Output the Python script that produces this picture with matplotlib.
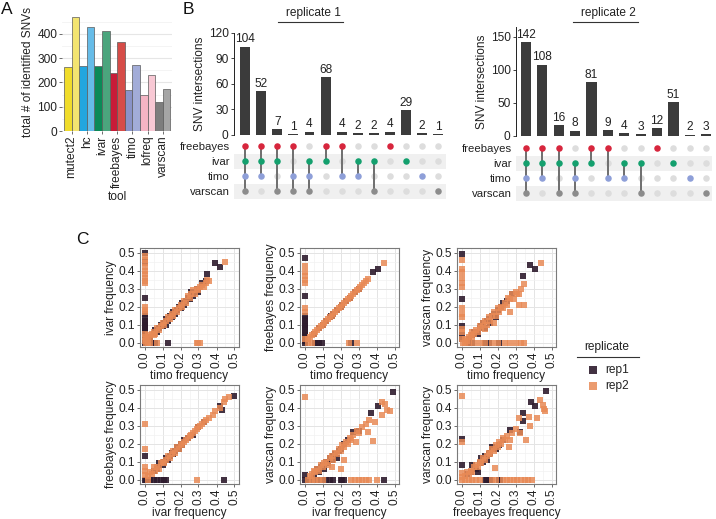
import matplotlib
matplotlib.use("Agg")
import matplotlib.pyplot as plt
from matplotlib.lines import Line2D
from matplotlib.patches import Rectangle

plt.rcParams['font.family'] = ['Liberation Sans', 'DejaVu Sans']
FS = 8.6
TXT = '#222222'

# ---------------- data: panel A ----------------
TOOLS = ['mutect2', 'hc', 'ivar', 'freebayes', 'timo', 'lofreq', 'varscan']
SNV_REP1 = [265, 267, 268, 240, 168, 147, 120]
SNV_REP2 = [470, 430, 413, 367, 272, 230, 172]
COL_REP1 = ['#f0dc2a', '#22a6df', '#0b8a57', '#c81b38', '#8a93c8', '#f4b4c4', '#7d7d7d']
COL_REP2 = ['#f3e470', '#66bce8', '#4ba57d', '#d64c48', '#a2acd8', '#f8c8d4', '#a5a5a5']

# ---------------- data: panel B ----------------
SETS = ['freebayes', 'ivar', 'timo', 'varscan']
REP1_COUNTS = [104, 52, 7, 1, 4, 68, 4, 2, 2, 4, 29, 2, 1]
REP1_MEMBERS = [
    ['freebayes', 'ivar', 'timo', 'varscan'],
    ['freebayes', 'ivar', 'timo'],
    ['freebayes', 'ivar', 'varscan'],
    ['freebayes', 'timo', 'varscan'],
    ['ivar', 'timo', 'varscan'],
    ['freebayes', 'ivar'],
    ['freebayes', 'timo'],
    ['ivar', 'timo'],
    ['ivar', 'varscan'],
    ['freebayes'],
    ['ivar'],
    ['timo'],
    ['varscan'],
]
REP2_COUNTS = [142, 108, 16, 8, 81, 9, 4, 3, 12, 51, 2, 3]
REP2_MEMBERS = [
    ['freebayes', 'ivar', 'timo', 'varscan'],
    ['freebayes', 'ivar', 'timo'],
    ['freebayes', 'ivar', 'varscan'],
    ['ivar', 'timo', 'varscan'],
    ['freebayes', 'ivar'],
    ['freebayes', 'timo'],
    ['ivar', 'timo'],
    ['ivar', 'varscan'],
    ['freebayes'],
    ['ivar'],
    ['timo'],
    ['varscan'],
]
SET_COLORS = {'freebayes': '#d7263d', 'ivar': '#14a06e', 'timo': '#8e9fd8', 'varscan': '#8c8c8c'}

# ---------------- data: panel C (x, y) frequency pairs ----------------
TIMO_IVAR_REP1 = [(0, .50), (0, .45), (0, .25), (0, .16), (0, .14), (0, .12), (0, .11), (0, .10), (0, .09),
                  (0, .08), (0, .07), (0, .06), (0, .05), (0, .04), (0, .03), (0, .02), (0, .01), (0, 0),
                  (.05, 0), (.06, 0), (.13, 0),
                  (.02, .03), (.03, .02), (.05, .05), (.06, .07), (.07, .06), (.08, .08), (.09, .10), (.10, .09),
                  (.11, .11), (.12, .13), (.12, .10), (.13, .12), (.14, .15), (.15, .14), (.16, .17), (.17, .16),
                  (.18, .18), (.19, .20), (.20, .19), (.21, .22), (.22, .21), (.23, .23), (.24, .25), (.25, .24),
                  (.26, .28), (.27, .26), (.29, .30), (.30, .28), (.32, .33), (.34, .34), (.35, .38), (.39, .44),
                  (.42, .42)]
TIMO_IVAR_REP2 = [(0, .48), (0, .46), (0, .44), (0, .42), (0, .40), (0, .38), (0, .36), (0, .34), (0, .33),
                  (0, .20), (0, .18), (0, .17), (0, .05), (0, .03), (0, .01),
                  (.01, 0), (.02, 0), (.03, 0), (.07, 0), (.29, 0), (.30, 0), (.31, 0),
                  (.01, .02), (.02, .01), (.02, .04), (.03, .03), (.04, .05), (.05, .04), (.05, .06), (.06, .05),
                  (.07, .08), (.08, .07), (.09, .09), (.10, .11), (.11, .10), (.12, .12), (.13, .14), (.14, .13),
                  (.15, .16), (.16, .15), (.17, .18), (.18, .17), (.19, .19), (.20, .21), (.21, .20), (.22, .23),
                  (.23, .22), (.24, .26), (.25, .25), (.26, .27), (.27, .29), (.28, .27), (.29, .30), (.30, .29),
                  (.31, .31), (.32, .32), (.33, .31), (.34, .33), (.35, .35), (.36, .34), (.45, .45)]

TIMO_FB_REP1 = [(0, .47), (0, .26), (0, .15), (0, .13), (0, .12), (0, .10), (0, .09), (0, .08), (0, .06),
                (0, .05), (0, .04), (0, .02), (0, .01),
                (0, 0), (.06, 0), (.07, 0), (.08, 0), (.095, 0), (.26, 0),
                (.05, .05), (.08, .08), (.10, .10), (.12, .12), (.14, .14), (.145, .15), (.15, .145), (.16, .16),
                (.18, .18), (.20, .20), (.21, .21), (.23, .23), (.25, .25), (.28, .28), (.30, .30), (.38, .39),
                (.41, .41)]
TIMO_FB_REP2 = [(0, .425), (0, .39), (0, .37), (0, .35), (0, .33), (0, .19), (0, .17), (0, .02),
                (.02, 0), (.04, 0), (.245, 0), (.29, 0),
                (.02, .02), (.03, .03), (.04, .04), (.05, .05), (.06, .06), (.07, .07), (.08, .08), (.09, .09),
                (.10, .10), (.11, .11), (.12, .12), (.13, .13), (.14, .14), (.15, .15), (.16, .16), (.17, .17),
                (.18, .18), (.19, .19), (.20, .20), (.21, .21), (.22, .22), (.23, .23), (.24, .24), (.25, .25),
                (.26, .26), (.27, .27), (.28, .28), (.29, .29), (.30, .30), (.31, .31), (.32, .32), (.33, .33),
                (.34, .34), (.355, .355), (.44, .44)]

TIMO_VS_REP1 = [(0, .49), (0, .24), (0, .09), (0, .04), (0, .02),
                (.04, 0), (.06, 0), (.13, 0), (.15, 0), (.21, 0),
                (.04, .02), (.06, .04), (.07, .06), (.09, .05), (.10, .08), (.11, .09), (.12, .11), (.13, .08),
                (.14, .12), (.15, .13), (.16, .11), (.17, .15), (.18, .16), (.19, .14), (.20, .18), (.22, .20),
                (.23, .22), (.25, .23), (.28, .27), (.34, .37), (.38, .43), (.41, .41)]
TIMO_VS_REP2 = [(0, .46), (0, .41), (0, .39), (0, .36), (0, .33), (0, .31), (0, .19), (0, .16), (0, .14),
                (0, .075), (0, .057), (0, .02),
                (.01, 0), (.02, 0), (.04, 0), (.07, 0), (.10, 0), (.13, 0), (.17, 0), (.20, 0), (.24, 0),
                (.27, 0), (.30, 0), (.33, 0), (.345, 0),
                (.02, .02), (.03, .01), (.04, .03), (.05, .04), (.06, .03), (.06, .06), (.07, .05), (.08, .07),
                (.09, .06), (.10, .09), (.11, .08), (.12, .11), (.13, .075), (.13, .12), (.14, .10), (.15, .14),
                (.16, .12), (.17, .15), (.18, .11), (.18, .17), (.19, .15), (.20, .19), (.21, .17), (.22, .20),
                (.23, .19), (.24, .22), (.25, .21), (.26, .25), (.27, .17), (.27, .24), (.28, .27), (.29, .24),
                (.30, .28), (.31, .27), (.32, .27), (.32, .21), (.33, .30), (.345, .325), (.345, .21), (.44, .44)]

IVAR_FB_REP1 = [(0, .13), (0, 0),
                (.01, 0), (.03, 0), (.05, 0), (.07, 0), (.09, 0), (.11, 0), (.12, 0), (.44, 0),
                (.05, .05), (.07, .06), (.08, .09), (.10, .08), (.11, .10), (.12, .12), (.13, .11), (.14, .13),
                (.15, .15), (.16, .14), (.17, .16), (.18, .18), (.19, .17), (.20, .20), (.21, .19), (.22, .22),
                (.24, .23), (.27, .25), (.30, .29), (.33, .32), (.42, .41), (.43, .385), (.50, .465)]
IVAR_FB_REP2 = [(0, .31), (0, .17), (0, .07), (0, .045), (0, .025),
                (.02, 0), (.29, 0),
                (.02, .02), (.03, .04), (.04, .03), (.05, .07), (.06, .05), (.07, .07), (.08, .06), (.09, .09),
                (.10, .10), (.11, .09), (.12, .11), (.13, .13), (.14, .12), (.15, .14), (.16, .16), (.17, .15),
                (.18, .18), (.19, .17), (.20, .20), (.21, .19), (.22, .21), (.23, .22), (.24, .23), (.25, .24),
                (.26, .25), (.27, .26), (.28, .27), (.29, .28), (.30, .29), (.31, .30), (.32, .31), (.33, .32),
                (.34, .33), (.36, .34), (.38, .36), (.39, .38), (.42, .40), (.44, .43), (.45, .45), (.47, .46)]

IVAR_VS_REP1 = [(0, .025),
                (0, 0), (.02, 0), (.04, 0), (.06, 0), (.08, 0), (.10, 0), (.12, 0), (.14, 0), (.16, 0),
                (.20, 0), (.21, 0), (.22, 0), (.44, 0),
                (.05, .03), (.07, .06), (.08, .04), (.09, .07), (.10, .08), (.11, .06), (.12, .10), (.13, .09),
                (.14, .12), (.15, .11), (.16, .13), (.17, .14), (.18, .12), (.19, .16), (.20, .17), (.22, .20),
                (.24, .22), (.27, .265), (.30, .27), (.37, .37), (.41, .41), (.494, .488)]
IVAR_VS_REP2 = [(0, .46),
                (.02, 0), (.04, 0), (.06, 0), (.08, 0), (.10, 0), (.26, 0), (.28, 0), (.30, 0), (.32, 0),
                (.34, 0), (.36, 0), (.405, 0),
                (.03, .02), (.04, .03), (.05, .05), (.06, .04), (.07, .06), (.08, .05), (.09, .08), (.10, .07),
                (.11, .09), (.12, .10), (.13, .08), (.14, .12), (.155, .07), (.15, .13), (.16, .11), (.17, .15),
                (.18, .14), (.19, .17), (.20, .056), (.20, .16), (.21, .19), (.22, .11), (.22, .18), (.23, .21),
                (.24, .20), (.25, .23), (.26, .22), (.27, .25), (.285, .21), (.29, .27), (.30, .26), (.32, .29),
                (.34, .31), (.35, .265), (.36, .33), (.38, .215), (.39, .32), (.428, .36), (.43, .43),
                (.446, .42), (.46, .385), (.476, .383)]

FB_VS_REP1 = [(0, .223), (0, .08),
              (.13, 0), (.14, 0), (.15, 0), (.16, 0), (.21, 0), (.215, 0),
              (.03, .03), (.05, .04), (.06, .08), (.08, .06), (.09, .04), (.10, .09), (.11, .12), (.12, .10),
              (.13, .13), (.14, .11), (.15, .14), (.16, .15), (.17, .18), (.19, .17), (.21, .19), (.23, .22),
              (.27, .275), (.325, .265), (.34, .37), (.343, .325), (.386, .43), (.41, .41), (.467, .49)]
FB_VS_REP2 = [(0, .464), (0, .207), (0, .034), (0, .016),
              (0, 0), (.02, 0), (.04, 0), (.06, 0), (.08, 0), (.10, 0), (.17, 0), (.19, 0), (.23, 0), (.25, 0),
              (.27, 0), (.29, 0), (.31, 0), (.33, 0), (.35, 0), (.37, 0), (.39, 0),
              (.02, .02), (.03, .04), (.04, .03), (.05, .05), (.06, .04), (.07, .07), (.08, .08), (.09, .07),
              (.10, .10), (.11, .09), (.12, .12), (.13, .11), (.14, .13), (.15, .15), (.16, .14), (.17, .17),
              (.18, .16), (.186, .062), (.19, .19), (.20, .18), (.21, .21), (.22, .20), (.23, .23), (.24, .22),
              (.25, .24), (.265, .179), (.27, .22), (.28, .26), (.30, .28), (.32, .34), (.325, .256),
              (.356, .22), (.375, .345), (.38, .297), (.418, .343), (.436, .44), (.45, .414), (.458, .39),
              (.466, .38)]

REP1_COLOR = '#2e1b2d'
REP2_COLOR = '#e88a56'

# ---------------- figure ----------------
W, H = 716, 519
fig = plt.figure(figsize=(W / 100, H / 100), dpi=100)


def px_axes(l, t, r, b):
    return fig.add_axes([l / W, 1 - b / H, (r - l) / W, (b - t) / H])


def ftext(x, y, s, **kw):
    fig.text(x / W, 1 - y / H, s, **kw)


def fline(x0, x1, y, **kw):
    fig.add_artist(Line2D([x0 / W, x1 / W], [1 - y / H, 1 - y / H], transform=fig.transFigure, **kw))


# ---------------- Panel A ----------------
axA = px_axes(62, 12, 172, 131)
xs = list(range(len(TOOLS)))
axA.bar([x - 0.25 for x in xs], SNV_REP1, width=0.5, color=COL_REP1, edgecolor='#5a5a5a', linewidth=0.5, zorder=3)
axA.bar([x + 0.25 for x in xs], SNV_REP2, width=0.5, color=COL_REP2, edgecolor='#5a5a5a', linewidth=0.5, zorder=3)
axA.set_xlim(-0.63, 6.6)
axA.set_ylim(0, 490)
axA.set_yticks([0, 100, 200, 300, 400])
axA.set_yticks([50, 150, 250, 350, 450], minor=True)
axA.grid(axis='y', which='major', color='#e6e6e6', lw=0.8, zorder=0)
axA.grid(axis='y', which='minor', color='#f3f3f3', lw=0.6, zorder=0)
axA.set_xticks(xs)
axA.set_xticklabels(TOOLS, rotation=90, fontsize=FS, color=TXT)
for s in axA.spines.values():
    s.set_visible(False)
axA.tick_params(axis='both', labelsize=FS, colors='#555555', length=2, width=0.6, pad=1.5)
axA.tick_params(axis='y', which='minor', length=0)
for lab in axA.get_yticklabels() + axA.get_xticklabels():
    lab.set_color(TXT)
axA.set_ylabel('total # of identified SNVs', fontsize=FS, color=TXT, labelpad=2)
axA.set_xlabel('tool', fontsize=FS, color=TXT, labelpad=2)
axA.set_axisbelow(True)


# ---------------- Panel B ----------------
def upset(bar_box, mat_box, counts, members, ylim, yticks, xlim, title, title_x, line_x):
    axb = px_axes(*bar_box)
    cols = list(range(len(counts)))
    axb.bar(cols, counts, width=0.62, color='#3b3b3b', zorder=3)
    for c, v in zip(cols, counts):
        axb.text(c, v + ylim[1] * 0.012, str(v), ha='center', va='bottom', fontsize=FS, color=TXT, clip_on=False)
    axb.set_xlim(*xlim)
    axb.set_ylim(*ylim)
    axb.set_yticks(yticks)
    axb.set_xticks([])
    for k in ['top', 'right', 'bottom']:
        axb.spines[k].set_visible(False)
    axb.spines['left'].set_color('#222222')
    axb.spines['left'].set_linewidth(0.7)
    axb.tick_params(axis='y', labelsize=FS, colors='#222222', length=2.5, width=0.6, pad=1.5)
    axb.set_ylabel('SNV intersections', fontsize=FS, color=TXT, labelpad=2)

    axm = px_axes(*mat_box)
    axm.set_xlim(*xlim)
    axm.set_ylim(len(SETS) - 0.5, -0.5)
    for r in range(len(SETS)):
        if r % 2 == 1:
            axm.axhspan(r - 0.5, r + 0.5, color='#f0f0f0', zorder=0, lw=0)
    for c, mem in zip(cols, members):
        rows = [SETS.index(m) for m in mem]
        for r, sname in enumerate(SETS):
            if sname in mem:
                axm.scatter(c, r, s=22, color=SET_COLORS[sname], zorder=4, linewidths=0)
            else:
                axm.scatter(c, r, s=22, color='#dddddd', zorder=2, linewidths=0)
        if len(rows) > 1:
            axm.plot([c, c], [min(rows), max(rows)], color='#6e6e6e', lw=1.4, zorder=3)
    axm.set_yticks(range(len(SETS)))
    axm.set_yticklabels(SETS, fontsize=8.2, color=TXT)
    axm.set_xticks([])
    axm.tick_params(axis='y', length=0, pad=3)
    for s in axm.spines.values():
        s.set_visible(False)
    ftext(title_x, 13, title, ha='center', va='center', fontsize=FS, color=TXT)
    fline(line_x[0], line_x[1], 22, color='#333333', lw=0.8)


upset((234, 33, 446, 135), (234, 138.5, 446, 198.5), REP1_COUNTS, REP1_MEMBERS,
      (0, 120), [0, 30, 60, 90, 120], (-0.7, 12.5), 'replicate 1', 313, (278, 343))
upset((516, 27, 712, 136), (516, 140.5, 712, 200.5), REP2_COUNTS, REP2_MEMBERS,
      (0, 165), [0, 50, 100, 150], (-0.6, 11.35), 'replicate 2', 608, (573, 638))


# ---------------- Panel C ----------------
def scatter_panel(box, rep1, rep2, xlabel, ylabel):
    ax = px_axes(*box)
    ticks = [0, 0.1, 0.2, 0.3, 0.4, 0.5]
    ax.set_xlim(-0.025, 0.525)
    ax.set_ylim(-0.025, 0.525)
    ax.set_xticks(ticks)
    ax.set_yticks(ticks)
    ax.set_xticks([0.05, 0.15, 0.25, 0.35, 0.45], minor=True)
    ax.set_yticks([0.05, 0.15, 0.25, 0.35, 0.45], minor=True)
    ax.grid(which='major', color='#e4e4e4', lw=0.7, zorder=0)
    ax.grid(which='minor', color='#f2f2f2', lw=0.5, zorder=0)
    ax.set_axisbelow(True)
    ax.set_xticklabels(['0.0', '0.1', '0.2', '0.3', '0.4', '0.5'], rotation=90)
    ax.set_yticklabels(['0.0', '0.1', '0.2', '0.3', '0.4', '0.5'])
    ax.tick_params(which='major', labelsize=FS, colors='#555555', length=2, width=0.6, pad=1.5)
    ax.tick_params(which='minor', length=0)
    for lab in ax.get_xticklabels() + ax.get_yticklabels():
        lab.set_color(TXT)
    for s in ax.spines.values():
        s.set_color('#7a7a7a')
        s.set_linewidth(0.8)
    ax.scatter([p[0] for p in rep1], [p[1] for p in rep1], marker='s', s=24, color=REP1_COLOR,
               alpha=0.9, linewidths=0, zorder=3)
    ax.scatter([p[0] for p in rep2], [p[1] for p in rep2], marker='s', s=24, color=REP2_COLOR,
               alpha=0.85, linewidths=0, zorder=3)
    ax.set_xlabel(xlabel, fontsize=FS, color=TXT, labelpad=1.5)
    ax.set_ylabel(ylabel, fontsize=FS, color=TXT, labelpad=1.5)
    return ax


scatter_panel((140, 248, 239, 347), TIMO_IVAR_REP1, TIMO_IVAR_REP2, 'timo frequency', 'ivar frequency')
scatter_panel((300, 248, 399, 347), TIMO_FB_REP1, TIMO_FB_REP2, 'timo frequency', 'freebayes frequency')
scatter_panel((457, 248, 556, 347), TIMO_VS_REP1, TIMO_VS_REP2, 'timo frequency', 'varscan frequency')
scatter_panel((140, 385, 239, 484), IVAR_FB_REP1, IVAR_FB_REP2, 'ivar frequency', 'freebayes frequency')
scatter_panel((300, 385, 399, 484), IVAR_VS_REP1, IVAR_VS_REP2, 'ivar frequency', 'varscan frequency')
scatter_panel((457, 385, 556, 484), FB_VS_REP1, FB_VS_REP2, 'freebayes frequency', 'varscan frequency')

# legend for panel C
ftext(607, 347, 'replicate', ha='center', va='center', fontsize=FS, color=TXT)
fline(577, 639, 357, color='#333333', lw=0.8)
for yy, col, lab, al in [(370, REP1_COLOR, 'rep1', 0.9), (386, REP2_COLOR, 'rep2', 0.85)]:
    fig.add_artist(Rectangle(((593 - 4) / W, 1 - (yy + 4) / H), 8 / W, 8 / H, transform=fig.transFigure,
                             color=col, alpha=al, lw=0))
    ftext(605, yy, lab, ha='left', va='center', fontsize=FS, color=TXT)

# panel letters
ftext(7, 9, 'A', ha='center', va='center', fontsize=12.5, color='#111111')
ftext(188, 9, 'B', ha='center', va='center', fontsize=12.5, color='#111111')
ftext(82, 240, 'C', ha='center', va='center', fontsize=12.5, color='#111111')

fig.savefig('out.png', dpi=100)
